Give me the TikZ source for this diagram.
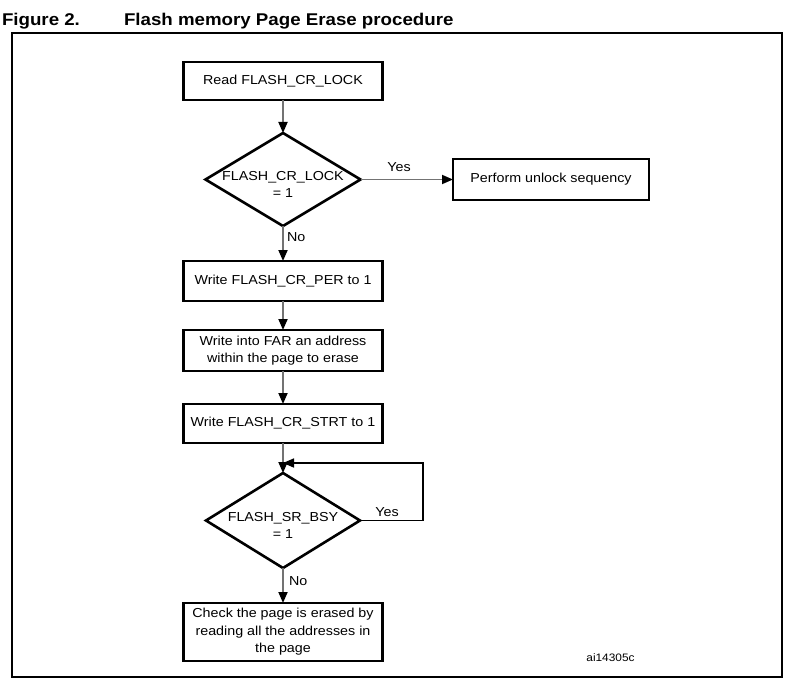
\documentclass[tikz,border=0pt]{standalone}
\usepackage{fontspec}
\setmainfont{Liberation Sans}[FakeStretch=1.1]
\usetikzlibrary{arrows.meta,shapes.geometric}
\begin{document}
\begin{tikzpicture}[x=1pt,y=-1pt,
  every node/.style={inner sep=0pt,outer sep=0pt},
  body/.style={font=\fontsize{13}{17.5}\selectfont},
  procbox/.style={body,draw=black,line width=2.6pt,align=center,minimum width=199pt},
  decision/.style={diamond,draw=black,line width=2.6pt},
  flow/.style={draw=black!55,line width=1.8pt,-{Triangle[length=11pt,width=9pt,color=black]}},
  loopline/.style={draw=black,line width=1.6pt,-{Triangle[length=11pt,width=9pt,color=black]}},
  lbl/.style={body}
]
\useasboundingbox (0,0) rectangle (790,682);
% title
\node[anchor=base west,font=\fontsize{17}{20}\selectfont\bfseries] (fig) at (2,26) {Figure 2.};
\node[anchor=base west,font=\fontsize{17}{20}\selectfont\bfseries] (title) at (124,26) {Flash memory Page Erase procedure};
% frame
\draw[line width=1.4pt] (12,33) rectangle (782,677);
% nodes
\node[procbox,minimum height=38pt] (b1) at (283,81) {Read FLASH\_CR\_LOCK};
\node[decision,minimum width=155pt,minimum height=93pt] (d1) at (283,179.5) {};
\node[body,align=center,anchor=north] (d1t) at (283,171) {FLASH\_CR\_LOCK\\= 1};
\node[procbox,minimum width=196pt,minimum height=41pt] (un) at (551,179.5) {Perform unlock sequency};
\node[procbox,minimum height=40pt] (b2) at (283,281) {Write FLASH\_CR\_PER to 1};
\node[procbox,minimum height=41pt] (b3) at (283,350.5) {Write into FAR an address\\within the page to erase};
\node[procbox,minimum height=39pt] (b4) at (283,423.5) {Write FLASH\_CR\_STRT to 1};
\node[decision,minimum width=154pt,minimum height=95pt] (d2) at (283,520.5) {};
\node[body,align=center,anchor=north] (d2t) at (283,512) {FLASH\_SR\_BSY\\= 1};
\node[procbox,minimum height=58pt] (b5) at (283,632) {Check the page is erased by\\reading all the addresses in\\the page};
% labels
\node[lbl] (yes1) at (399,167) {Yes};
\node[lbl,anchor=west] (no1) at (287,237) {No};
\node[lbl] (yes2) at (387,512) {Yes};
\node[lbl,anchor=west] (no2) at (289,581) {No};
\node[font=\fontsize{10.8}{13}\selectfont] (ref) at (610.5,658) {ai14305c};
% connectors
\coordinate (m) at (283,463);
\coordinate (r) at (423,463);
\draw[flow] (b1.south) -- (d1.north);
\draw[flow] (d1.east) -- (un.west);
\draw[flow] (d1.south) -- (b2.north);
\draw[flow] (b2.south) -- (b3.north);
\draw[flow] (b3.south) -- (b4.north);
\draw[flow] (b4.south) -- (d2.north);
\draw[loopline] (d2.east) -| (r) -- (m);
\draw[flow] (d2.south) -- (b5.north);
\end{tikzpicture}
\end{document}
